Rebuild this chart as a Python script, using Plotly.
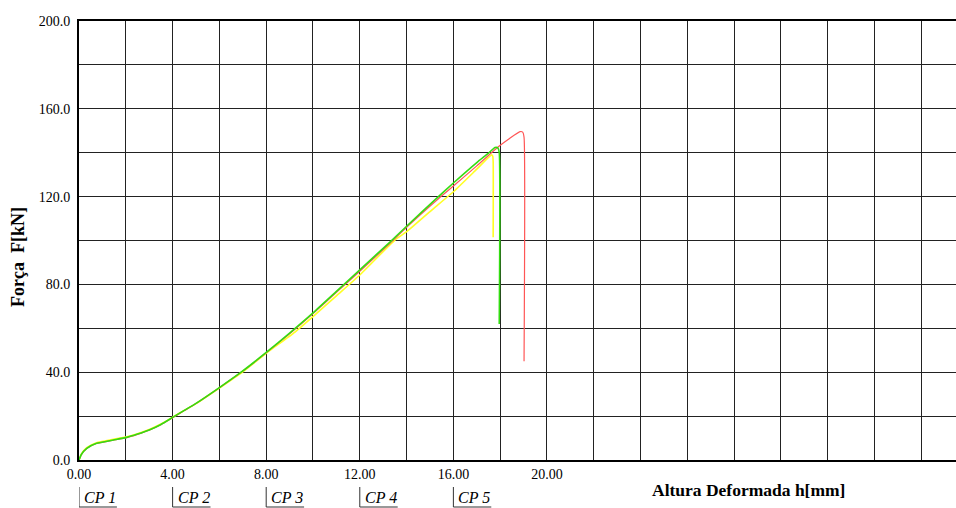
import plotly.graph_objects as go

# ---- data ----
green_x = [0, 0.1, 0.33, 0.75, 1.47, 2.04, 2.5, 3.0, 3.5, 4.0, 4.5, 5.0, 6.0, 7.0, 8.0, 9.0, 10.0,
           11.0, 12.0, 13.3, 14.0, 15.36, 16.0, 17.0, 17.49, 17.78, 17.9, 17.96, 17.96]
green_y = [0, 2.5, 5.3, 7.6, 9.1, 10.3, 11.8, 13.7, 16.2, 19.4, 22.6, 25.8, 33.0, 40.6, 49.0, 57.8, 67.0,
           76.8, 86.6, 99.4, 106.5, 120.0, 126.2, 135.5, 139.7, 142.4, 142.2, 140.0, 62.0]

red_x = [0, 0.1, 0.33, 0.75, 1.47, 2.04, 2.5, 3.0, 3.5, 4.0, 4.5, 5.0, 6.0, 7.0, 8.0, 9.0, 10.0,
         11.0, 12.0, 13.3, 14.0, 15.36, 16.0, 17.0, 17.92, 18.4, 18.85, 18.96, 19.02, 19.02]
red_y = [0, 2.4, 5.2, 7.5, 9.0, 10.2, 11.7, 13.6, 16.1, 19.3, 22.5, 25.7, 32.9, 40.5, 48.8, 57.5, 66.7,
         76.4, 86.0, 98.8, 106.0, 119.0, 124.8, 134.0, 142.7, 146.5, 149.6, 149.4, 147.0, 45.0]

yellow_x = [0, 0.1, 0.33, 0.75, 1.47, 2.04, 2.5, 3.0, 3.5, 4.0, 4.5, 5.0, 6.0, 7.0, 8.0, 9.23, 10.0,
            11.0, 12.0, 13.5, 14.0, 15.0, 16.0, 17.0, 17.63, 17.68, 17.70, 17.70]
yellow_y = [0, 2.7, 5.6, 7.9, 9.4, 10.6, 12.0, 13.9, 16.4, 19.5, 22.6, 25.7, 32.8, 40.2, 48.6, 58.3, 65.3,
            74.8, 84.3, 100.2, 104.0, 113.2, 122.2, 132.5, 139.0, 138.5, 136.0, 101.5]

x_ticks = [0, 4, 8, 12, 16, 20]
y_ticks = [0, 40, 80, 120, 160, 200]
cp_labels = ["CP 1", "CP 2", "CP 3", "CP 4", "CP 5"]
cp_pos = [0, 4, 8, 12, 16]

SERIF = "Liberation Serif, Times New Roman, serif"

fig = go.Figure()
fig.add_trace(go.Scatter(x=yellow_x, y=yellow_y, mode="lines",
                         line=dict(color="#ffff22", width=1.6, shape="spline", smoothing=0.5),
                         showlegend=False))
fig.add_trace(go.Scatter(x=red_x, y=red_y, mode="lines",
                         line=dict(color="#ff5555", width=1.2, shape="spline", smoothing=0.5),
                         showlegend=False))
fig.add_trace(go.Scatter(x=green_x, y=green_y, mode="lines",
                         line=dict(color="#33dd11", width=1.6, shape="spline", smoothing=0.5),
                         showlegend=False))

PLOT_H = 439  # plot-area height in px
PLOT_W = 877  # plot-area width in px

grid_col = "#222222"
fig.update_xaxes(range=[0, 37.48], tickvals=x_ticks, ticktext=[f"{v:.2f}" for v in x_ticks],
                 showgrid=True, gridcolor=grid_col, gridwidth=1, automargin=False,
                 minor=dict(dtick=2, tick0=0, showgrid=True, gridcolor=grid_col, gridwidth=1),
                 showline=True, linecolor="black", linewidth=2, mirror=True,
                 zeroline=False, ticks="", tickfont=dict(family=SERIF, size=14, color="black"))
fig.update_yaxes(range=[0, 200], tickvals=y_ticks, ticktext=[f"{v:.1f}" for v in y_ticks],
                 showgrid=True, gridcolor=grid_col, gridwidth=1, automargin=False,
                 minor=dict(dtick=20, tick0=0, showgrid=True, gridcolor=grid_col, gridwidth=1),
                 showline=True, linecolor="black", linewidth=2,
                 zeroline=False, ticks="", ticklabelstandoff=4,
                 tickfont=dict(family=SERIF, size=14, color="black"))

annotations = [
    dict(text="<b>Altura Deformada h[mm]</b>", xref="paper", yref="paper",
         x=(748 - 79) / PLOT_W, y=-30 / PLOT_H, xanchor="center", yanchor="middle",
         showarrow=False, font=dict(family=SERIF, size=17.5, color="black")),
    dict(text="<b>Força\u00a0 F[kN]</b>", xref="paper", yref="paper", textangle=-90,
         x=(18 - 79) / PLOT_W, y=(460 - 257) / PLOT_H, xanchor="center", yanchor="middle",
         showarrow=False, font=dict(family=SERIF, size=18, color="black")),
]
shapes = []
for lab, p in zip(cp_labels, cp_pos):
    annotations.append(dict(text=f"<i>{lab}</i>", xref="x", yref="paper", x=p + 0.13,
                            y=-37 / PLOT_H, xanchor="left", yanchor="middle", showarrow=False,
                            font=dict(family=SERIF, size=16, color="black")))
    shapes.append(dict(type="line", xref="x", yref="paper", x0=p, x1=p,
                       y0=-27 / PLOT_H, y1=-47 / PLOT_H, line=dict(color="#333333", width=1)))
    shapes.append(dict(type="line", xref="x", yref="paper", x0=p, x1=p + 1.62,
                       y0=-47 / PLOT_H, y1=-47 / PLOT_H, line=dict(color="#333333", width=1)))

fig.update_layout(width=956, height=508, margin=dict(l=79, r=0, t=21, b=48),
                  plot_bgcolor="white", paper_bgcolor="white",
                  annotations=annotations, shapes=shapes)

# remove the default page margin so the figure fills the window exactly
fig.write_html("out.html", config={"displayModeBar": False},
               post_script="document.body.style.margin='0';document.body.style.overflow='hidden';")
